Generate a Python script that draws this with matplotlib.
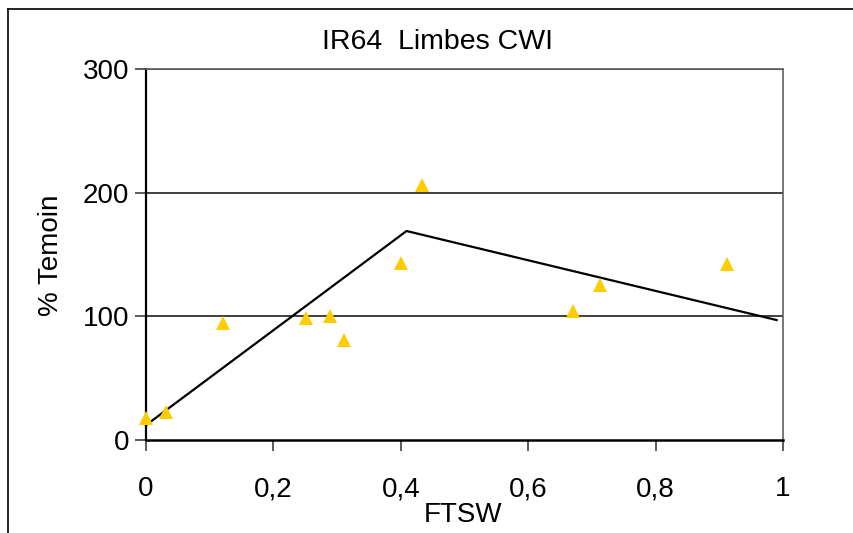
import matplotlib.pyplot as plt
from matplotlib.lines import Line2D

plt.rcParams['font.family'] = ['Liberation Sans', 'DejaVu Sans']

# observed points
ftsw = [0.0, 0.032, 0.121, 0.251, 0.289, 0.311, 0.400, 0.434, 0.671, 0.713, 0.912]
temoin = [18, 23, 95, 99, 100, 81, 143, 206, 104, 125, 142]

# fitted broken line
fit_x = [0.0, 0.409, 0.99]
fit_y = [12, 169, 97]

xticks = [0, 0.2, 0.4, 0.6, 0.8, 1]
xlabels = ['0', '0,2', '0,4', '0,6', '0,8', '1']
yticks = [0, 100, 200, 300]

fig = plt.figure(figsize=(8.54, 5.33), dpi=100)
ax = fig.add_axes([146/854, 93/533, 637/854, 371/533])

for v in yticks[1:]:
    ax.axhline(v, color='#303030', lw=1.3, zorder=1)

ax.plot(fit_x, fit_y, color='black', lw=1.6, zorder=2, clip_on=False)
ax.plot(ftsw, temoin, linestyle='none', marker='^', markersize=10,
        color='#FFCC00', markeredgewidth=0, zorder=3, clip_on=False)

ax.set_xlim(0, 1)
ax.set_ylim(0, 300)
ax.set_xticks(xticks)
ax.set_xticklabels(xlabels)
ax.set_yticks(yticks)
ax.tick_params(axis='both', labelsize=20, direction='out', length=8, width=1.2, color='#404040')
ax.tick_params(axis='x', pad=18)
ax.tick_params(axis='y', pad=4)

ax.spines['left'].set_linewidth(1.6)
ax.spines['bottom'].set_linewidth(1.8)
ax.spines['top'].set_color('#606060')
ax.spines['right'].set_color('#606060')
ax.spines['top'].set_linewidth(1.2)
ax.spines['right'].set_linewidth(1.2)

fig.text(438/854, 1 - 42/533, 'IR64  Limbes CWI', ha='center', va='center', fontsize=20.5)
fig.text(463/854, 1 - 515/533, 'FTSW', ha='center', va='center', fontsize=20)
fig.text(51/854, 1 - 255/533, '% Temoin', ha='center', va='center', fontsize=20, rotation=90)

# outer chart frame (left and top edges visible)
fig.add_artist(Line2D([8/854, 8/854], [0, 1 - 9/533], transform=fig.transFigure, color='black', lw=1.2))
fig.add_artist(Line2D([8/854, 1], [1 - 9/533, 1 - 9/533], transform=fig.transFigure, color='black', lw=1.2))

fig.savefig('out.png', dpi=100)
